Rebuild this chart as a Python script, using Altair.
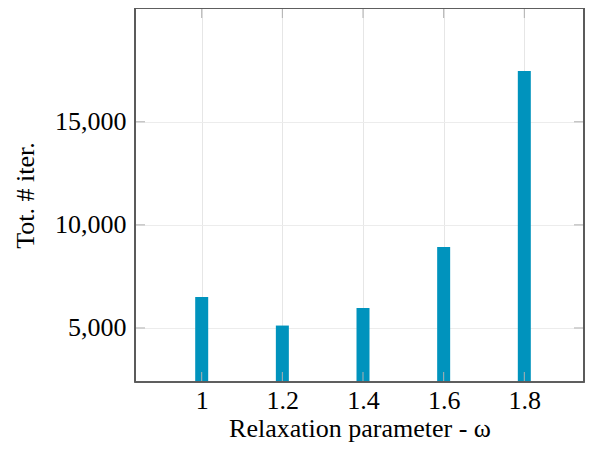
import altair as alt
import pandas as pd

omega = [1.0, 1.2, 1.4, 1.6, 1.8]
iterations = [6505, 5117, 5971, 8932, 17461]
y_ticks = [5000, 10000, 15000]
x_ticks = [1.0, 1.2, 1.4, 1.6, 1.8]

FONT = "Liberation Serif"
BAR_COLOR = "#0093bd"
W, H = 449, 374
FS = 26
X_DOM = [0.8346, 1.948]
Y_DOM = [2379, 20519]

df = pd.DataFrame({"omega": omega, "iters": iterations})
yt = pd.DataFrame({"v": y_ticks})
xt = pd.DataFrame({"v": x_ticks})

xscale = alt.Scale(domain=X_DOM, nice=False, zero=False, padding=0)
yscale = alt.Scale(domain=Y_DOM, nice=False, zero=False, padding=0)

bars = alt.Chart(df).mark_bar(color=BAR_COLOR, size=13, clip=True).encode(
    x=alt.X("omega:Q", scale=xscale,
            axis=alt.Axis(values=x_ticks, format=".1~f", title="Relaxation parameter - ω",
                          grid=True, gridColor="#e6e6e6", gridWidth=1,
                          ticks=False, domain=False, labelFont=FONT, labelFontSize=FS,
                          labelColor="#000", labelPadding=5, titleFont=FONT,
                          titleFontSize=FS, titleFontWeight="normal", titleColor="#000",
                          titlePadding=2)),
    y=alt.Y("iters:Q", scale=yscale,
            axis=alt.Axis(values=y_ticks, format=",d", title="Tot. # iter.",
                          grid=True, gridColor="#ececec", gridWidth=1,
                          ticks=False, domain=False, labelFont=FONT, labelFontSize=FS,
                          labelColor="#000", labelPadding=9, titleFont=FONT,
                          titleFontSize=FS, titleFontWeight="normal", titleColor="#000",
                          titlePadding=16)),
    y2=alt.datum(Y_DOM[0]),
)

tick_col = "#b0b0b0"
ytl = alt.Chart(yt).mark_rule(color=tick_col, strokeWidth=1).encode(
    y=alt.Y("v:Q", scale=yscale), x=alt.value(0), x2=alt.value(10))
ytr = alt.Chart(yt).mark_rule(color=tick_col, strokeWidth=1).encode(
    y=alt.Y("v:Q", scale=yscale), x=alt.value(W - 10), x2=alt.value(W))
xtb = alt.Chart(xt).mark_rule(color=tick_col, strokeWidth=1).encode(
    x=alt.X("v:Q", scale=xscale), y=alt.value(H - 10), y2=alt.value(H))
xtt = alt.Chart(xt).mark_rule(color=tick_col, strokeWidth=1).encode(
    x=alt.X("v:Q", scale=xscale), y=alt.value(0), y2=alt.value(10))

frame = alt.Chart(df).mark_rect(fillOpacity=0, stroke="#5a5a5a", strokeWidth=1.2).encode(
    x=alt.value(0), x2=alt.value(W), y=alt.value(0), y2=alt.value(H))

chart = alt.layer(bars, ytl, ytr, xtb, xtt, frame).properties(
    width=W, height=H,
    autosize=alt.AutoSizeParams(type="none"),
    padding={"left": 127, "top": 0, "right": 1, "bottom": 63},
).configure_view(stroke=None).configure(background="white")

chart.save("out.html", embed_options={"renderer": "svg", "actions": False})
